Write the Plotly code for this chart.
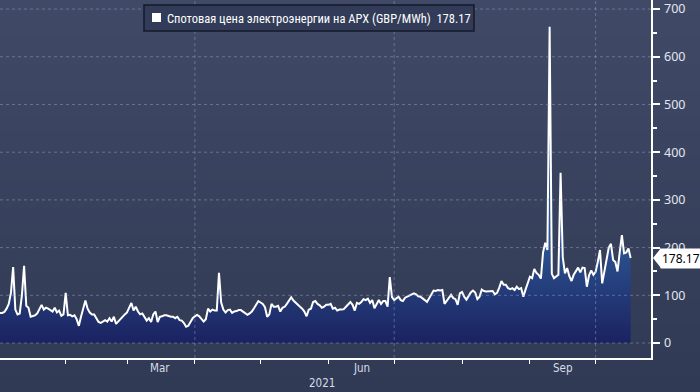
import pandas as pd
import plotly.graph_objects as go

# ---- data (daily APX spot price, GBP/MWh) ----
start_date = "2021-01-02"
price = [
    63, 63, 65, 72, 82, 105, 159, 70, 60, 62, 100, 162, 78, 74, 55, 56, 58, 62, 70, 80,
    70, 74, 72, 68, 66, 74, 64, 68, 57, 60, 105, 58, 59, 56, 58, 50, 36, 55, 72, 89,
    72, 64, 60, 60, 52, 44, 42, 46,
    48, 45, 52, 45, 55, 40, 45, 52, 57, 60, 64, 76, 84, 68, 76, 66, 60, 62, 54, 47,
    52, 44, 60, 66, 44, 55, 56, 58, 58, 56, 55, 55, 52, 55, 48, 47, 42, 34, 36, 44,
    52, 56, 59, 56, 50, 45, 50, 72,
    66, 70, 68, 68, 147, 85, 70, 64, 69, 70, 63, 66, 67, 69, 69, 66, 62, 59, 62, 66,
    73, 80, 88, 85, 82, 75, 55, 60, 82, 76, 76, 78, 66, 74, 76, 82, 88, 96, 89, 84,
    80, 76, 72, 66, 56, 70, 72, 86,
    88, 82, 79, 74, 76, 80, 80, 82, 72, 74, 68, 70, 70, 71, 76, 80, 86, 80, 68, 84,
    82, 86, 92, 90, 93, 84, 90, 73, 83, 90, 82, 88, 88, 76, 138, 96, 90, 94, 97, 90,
    88, 95, 97, 99, 101, 104, 102, 98,
    97, 94, 90, 86, 94, 103, 110, 109, 111, 110, 111, 82, 88, 96, 101, 94, 92, 80, 104, 107,
    97, 91, 98, 106, 110, 106, 92, 97, 112, 109, 108, 108, 109, 109, 102, 105, 116, 130, 122, 122,
    115, 113, 115, 111, 118, 113,
    115, 97, 112, 128, 139, 136, 155, 147, 143, 135, 190, 210, 195, 663, 145, 136, 139, 143, 357, 180,
    146, 157, 140, 130, 143, 152, 158, 148, 158, 157, 118, 142, 152, 143, 149, 170, 195, 125, 150, 178,
    200, 208, 174, 170, 150, 190, 226, 188, 190, 198, 178.17,
]
dates = pd.date_range(start=start_date, periods=len(price), freq="D")

series_name = "Спотовая цена электроэнергии на APX (GBP/MWh)"
last_value = price[-1]

y_ticks = [0, 100, 200, 300, 400, 500, 600, 700]
month_ticks = ["2021-02-01", "2021-03-01", "2021-04-01", "2021-05-01", "2021-06-01",
               "2021-07-01", "2021-08-01", "2021-09-01", "2021-10-01"]
grid_dates = ["2021-04-01", "2021-07-01", "2021-10-01"]
month_labels = ["Mar", "Jun", "Sep"]
month_label_pos = ["2021-03-16", "2021-06-16", "2021-09-16"]
year_label = "2021"
year_label_pos = "2021-05-29"

# ---- figure ----
W, H = 700, 392
ML, MR, MT, MB = 0, 49, 0, 34
PW, PH = W - ML - MR, H - MT - MB

fig = go.Figure()
fig.add_trace(go.Scatter(
    x=dates, y=price, mode="lines",
    line=dict(color="#ffffff", width=2),
    fill="tozeroy",
    fillgradient=dict(type="vertical",
                      colorscale=[[0, "#1b2260"], [1, "#2d5694"]],
                      start=0, stop=220),
    showlegend=False, hoverinfo="skip",
))

shapes = []
# background gradient bands
top = (64, 74, 103)
bot = (48, 58, 84)
n = 30
y_hi = 1.0
y_lo = -MB / PH
for k in range(n):
    t = k / (n - 1)
    c = tuple(round(top[j] + (bot[j] - top[j]) * t) for j in range(3))
    y1 = y_hi - (y_hi - y_lo) * k / n
    y0 = y_hi - (y_hi - y_lo) * (k + 1) / n
    shapes.append(dict(type="rect", xref="paper", yref="paper",
                       x0=-0.01, x1=W / PW + 0.01, y0=y0 - 0.002, y1=y1 + 0.002,
                       fillcolor="rgb(%d,%d,%d)" % c, line=dict(width=0), layer="below"))

grid_col = "rgba(160,172,205,0.45)"
for v in y_ticks:
    shapes.append(dict(type="line", xref="paper", yref="y", x0=0, x1=1, y0=v, y1=v,
                       line=dict(color=grid_col, width=1, dash="3px,3px"), layer="above"))
for d in grid_dates:
    shapes.append(dict(type="line", xref="x", yref="paper", x0=d, x1=d, y0=0, y1=1,
                       line=dict(color=grid_col, width=1, dash="3px,3px"), layer="above"))

# legend box
lx0, lx1, ly0, ly1 = 144, 474, 5, 31
shapes.append(dict(type="rect", xref="paper", yref="paper",
                   x0=lx0 / PW, x1=lx1 / PW, y0=1 - ly1 / PH, y1=1 - ly0 / PH,
                   fillcolor="#323c59", line=dict(color="#141a2a", width=1.5), layer="above"))
shapes.append(dict(type="rect", xref="paper", yref="paper",
                   x0=152 / PW, x1=161 / PW, y0=1 - 22 / PH, y1=1 - 13 / PH,
                   fillcolor="#ffffff", line=dict(width=0), layer="above"))

# last value pointer
shapes.append(dict(type="path", xref="paper", yref="y", xsizemode="pixel", ysizemode="pixel",
                   xanchor=1, yanchor=last_value,
                   path="M 2 0 L 10 10 L 10 -10 Z",
                   fillcolor="#ffffff", line=dict(width=0), layer="above"))

annotations = [
    dict(xref="paper", yref="paper", x=165 / PW, y=1 - 18 / PH, xanchor="left", yanchor="middle",
         text=f"{series_name}  {last_value:.2f}", showarrow=False,
         font=dict(family="Liberation Sans Narrow, Roboto Condensed, DejaVu Sans Condensed, Noto Sans, sans-serif",
                   size=12.5, color="#ffffff")),
    dict(xref="paper", yref="y", x=1, y=last_value, xanchor="left", yanchor="middle", xshift=9,
         text=f"{last_value:.2f}", showarrow=False, bgcolor="#ffffff", borderpad=1,
         font=dict(family="Noto Sans, DejaVu Sans, sans-serif", size=12, color="#000000")),
]
lab_font = dict(family="DejaVu Sans Condensed, DejaVu Sans, sans-serif", size=11.5, color="#d8dce8")
for lbl, pos in zip(month_labels, month_label_pos):
    annotations.append(dict(xref="x", yref="paper", x=pos, y=-10 / PH, xanchor="center",
                            yanchor="middle", text=lbl, showarrow=False, font=lab_font))
annotations.append(dict(xref="x", yref="paper", x=year_label_pos, y=-25 / PH, xanchor="center",
                        yanchor="middle", text=year_label, showarrow=False, font=lab_font))

fig.update_layout(
    width=W, height=H,
    margin=dict(l=ML, r=MR, t=MT, b=MB),
    paper_bgcolor="rgb(48,58,84)",
    plot_bgcolor="rgba(0,0,0,0)",
    showlegend=False,
    shapes=shapes,
    annotations=annotations,
    xaxis=dict(
        range=["2021-01-02", "2021-10-26 07:00"],
        tickvals=month_ticks, ticktext=[""] * len(month_ticks),
        ticks="outside", ticklen=4, tickwidth=1, tickcolor="#ffffff",
        showline=True, linecolor="#ffffff", linewidth=1.5,
        showgrid=False, zeroline=False, fixedrange=True,
    ),
    yaxis=dict(
        side="right",
        range=[-31.4, 719],
        tickvals=y_ticks,
        ticks="outside", ticklen=7, tickwidth=2, tickcolor="#ffffff",
        minor=dict(dtick=50, ticks="outside", ticklen=4, tickcolor="#ffffff", showgrid=False),
        showline=True, linecolor="#ffffff", linewidth=1.5,
        showgrid=False, zeroline=False,
        tickfont=dict(family="Noto Sans, DejaVu Sans, sans-serif", size=12.5, color="#e2e6f0"),
        ticklabelstandoff=2,
    ),
)

fig.write_html("out.html",
               config={"displayModeBar": False, "staticPlot": True},
               post_script="document.body.style.margin='0';document.body.style.overflow='hidden';")
